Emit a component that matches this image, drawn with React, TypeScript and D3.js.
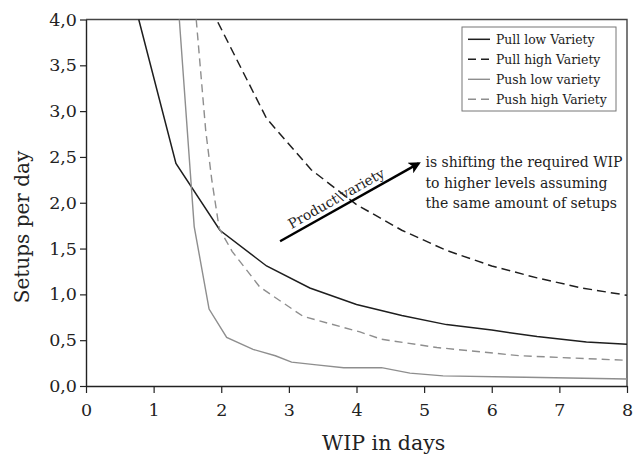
import { useEffect, useRef } from 'react';
import * as d3 from 'd3';

// WIP (days) vs setups per day
const pullLowX = [0.78, 1.33, 1.98, 2.67, 3.31, 4.0, 4.67, 5.33, 6.0, 6.67, 7.4, 8.0];
const pullLowY = [4.0, 2.43, 1.70, 1.31, 1.07, 0.89, 0.77, 0.67, 0.61, 0.54, 0.48, 0.455];

const pullHighX = [1.95, 2.67, 3.33, 4.0, 4.67, 5.33, 6.0, 6.67, 7.33, 8.0];
const pullHighY = [3.97, 2.92, 2.36, 1.98, 1.70, 1.48, 1.31, 1.18, 1.07, 0.99];

const pushLowX = [1.38, 1.60, 1.82, 2.08, 2.47, 2.80, 3.04, 3.41, 3.81, 4.37, 4.79, 5.28, 6.5, 8.0];
const pushLowY = [4.0, 1.74, 0.84, 0.53, 0.40, 0.33, 0.26, 0.23, 0.20, 0.20, 0.14, 0.11, 0.095, 0.076];

const pushHighX = [1.63, 1.77, 1.86, 1.97, 2.16, 2.57, 3.21, 4.05, 4.37, 5.19, 6.42, 8.0];
const pushHighY = [4.0, 2.79, 2.25, 1.72, 1.47, 1.08, 0.76, 0.59, 0.51, 0.42, 0.33, 0.28];

const seriesNames = ['Pull low Variety', 'Pull high Variety', 'Push low variety', 'Push high Variety'];
const xTicks = [0, 1, 2, 3, 4, 5, 6, 7, 8];
const yTicks = [0, 0.5, 1, 1.5, 2, 2.5, 3, 3.5, 4];

const arrowFrom = [2.87, 1.58];
const arrowTo = [4.92, 2.43];
const arrowLabel = 'Product\\variety';
const noteLines = ['is shifting the required WIP', 'to higher levels assuming', 'the same amount of setups'];

const FONT = "'DejaVu Serif', serif";

const App = () => {
  const svgRef = useRef(null);

  useEffect(() => {
    const width = 641;
    const height = 458;
    const margin = { top: 19.5, right: 14, bottom: 72, left: 86 };

    d3.select(svgRef.current).selectAll('*').remove();
    const svg = d3.select(svgRef.current)
      .attr('width', width)
      .attr('height', height)
      .style('font-family', FONT);

    const x = d3.scaleLinear().domain([0, 8]).range([margin.left, width - margin.right]);
    const y = d3.scaleLinear().domain([0, 4]).range([height - margin.bottom, margin.top]);

    const series = [
      { xs: pullLowX, ys: pullLowY, color: '#1e1e1e', dash: null, w: 1.5 },
      { xs: pullHighX, ys: pullHighY, color: '#1e1e1e', dash: '9,5', w: 1.5 },
      { xs: pushLowX, ys: pushLowY, color: '#8e8e8e', dash: null, w: 1.4 },
      { xs: pushHighX, ys: pushHighY, color: '#8e8e8e', dash: '8,5', w: 1.4 },
    ];

    // frame (top + right)
    svg.append('path')
      .attr('d', `M${x(0)},${y(4)}H${x(8)}V${y(0)}`)
      .attr('fill', 'none')
      .attr('stroke', '#444')
      .attr('stroke-width', 1.4);

    const fmt = (d) => d3.format('.1f')(d).replace('.', ',');

    const xAxis = svg.append('g')
      .attr('transform', `translate(0,${y(0)})`)
      .call(d3.axisBottom(x).tickValues(xTicks).tickSize(7).tickPadding(11).tickSizeOuter(0).tickFormat(d3.format('d')));
    const yAxis = svg.append('g')
      .attr('transform', `translate(${x(0)},0)`)
      .call(d3.axisLeft(y).tickValues(yTicks).tickSize(6).tickPadding(3).tickSizeOuter(0).tickFormat(fmt));

    [xAxis, yAxis].forEach((g) => {
      g.attr('font-family', null).attr('font-size', null);
      g.select('.domain').attr('stroke', '#222').attr('stroke-width', 1.4);
      g.selectAll('line').attr('stroke', '#222').attr('stroke-width', 1.2);
      g.selectAll('text').style('font-family', FONT).attr('font-size', 17.5).attr('fill', '#222');
    });

    const line = d3.line().x((d) => x(d[0])).y((d) => y(d[1]));

    series.forEach((s) => {
      svg.append('path')
        .datum(s.xs.map((v, i) => [v, s.ys[i]]))
        .attr('d', line)
        .attr('fill', 'none')
        .attr('stroke', s.color)
        .attr('stroke-width', s.w)
        .attr('stroke-dasharray', s.dash);
    });

    // legend
    const lg = svg.append('g').attr('transform', 'translate(462,27)');
    lg.append('rect').attr('width', 154).attr('height', 84)
      .attr('fill', 'white').attr('stroke', '#777').attr('stroke-width', 1);
    seriesNames.forEach((name, i) => {
      const cy = 12.3 + i * 20;
      lg.append('line')
        .attr('x1', 6).attr('x2', 28).attr('y1', cy).attr('y2', cy)
        .attr('stroke', series[i].color)
        .attr('stroke-width', series[i].w)
        .attr('stroke-dasharray', series[i].dash ? '8,5' : null);
      lg.append('text')
        .attr('x', 34).attr('y', cy + 4.5)
        .style('font-family', FONT).attr('font-size', 12.4)
        .attr('fill', '#222')
        .text(name);
    });

    // arrow annotation
    const defs = svg.append('defs');
    defs.append('marker')
      .attr('id', 'arrowhead')
      .attr('viewBox', '0 0 10 10')
      .attr('refX', 8).attr('refY', 5)
      .attr('markerWidth', 6).attr('markerHeight', 5)
      .attr('markerUnits', 'strokeWidth')
      .attr('orient', 'auto')
      .append('path').attr('d', 'M0,0L10,5L0,10L2.5,5Z').attr('fill', '#000');

    const ax1 = x(arrowFrom[0]), ay1 = y(arrowFrom[1]);
    const ax2 = x(arrowTo[0]), ay2 = y(arrowTo[1]);
    svg.append('line')
      .attr('x1', ax1).attr('y1', ay1).attr('x2', ax2).attr('y2', ay2)
      .attr('stroke', '#000').attr('stroke-width', 2.4)
      .attr('marker-end', 'url(#arrowhead)');

    const ang = Math.atan2(ay2 - ay1, ax2 - ax1);
    const t = 0.44;
    const mx = ax1 + (ax2 - ax1) * t + Math.sin(ang) * 5;
    const my = ay1 + (ay2 - ay1) * t - Math.cos(ang) * 5;
    svg.append('text')
      .attr('transform', `translate(${mx},${my}) rotate(${(ang * 180) / Math.PI})`)
      .attr('text-anchor', 'middle')
      .style('font-family', FONT).attr('font-size', 13.8)
      .attr('fill', '#222')
      .text(arrowLabel);

    noteLines.forEach((txt, i) => {
      svg.append('text')
        .attr('x', x(5.02))
        .attr('y', 167 + i * 20.5)
        .style('font-family', FONT).attr('font-size', 14)
        .attr('fill', '#222')
        .text(txt);
    });

    // axis titles
    svg.append('text')
      .attr('x', 383.7).attr('y', 450)
      .attr('text-anchor', 'middle')
      .style('font-family', FONT).attr('font-size', 20.5)
      .attr('fill', '#222')
      .text('WIP in days');

    svg.append('text')
      .attr('transform', 'translate(29,227) rotate(-90)')
      .attr('text-anchor', 'middle')
      .style('font-family', FONT).attr('font-size', 20)
      .attr('fill', '#222')
      .text('Setups per day');
  }, []);

  return (
    <div style={{ position: 'absolute', left: 0, top: 0, background: 'white' }}>
      <svg ref={svgRef} style={{ display: 'block' }}></svg>
    </div>
  );
};

export default App;
